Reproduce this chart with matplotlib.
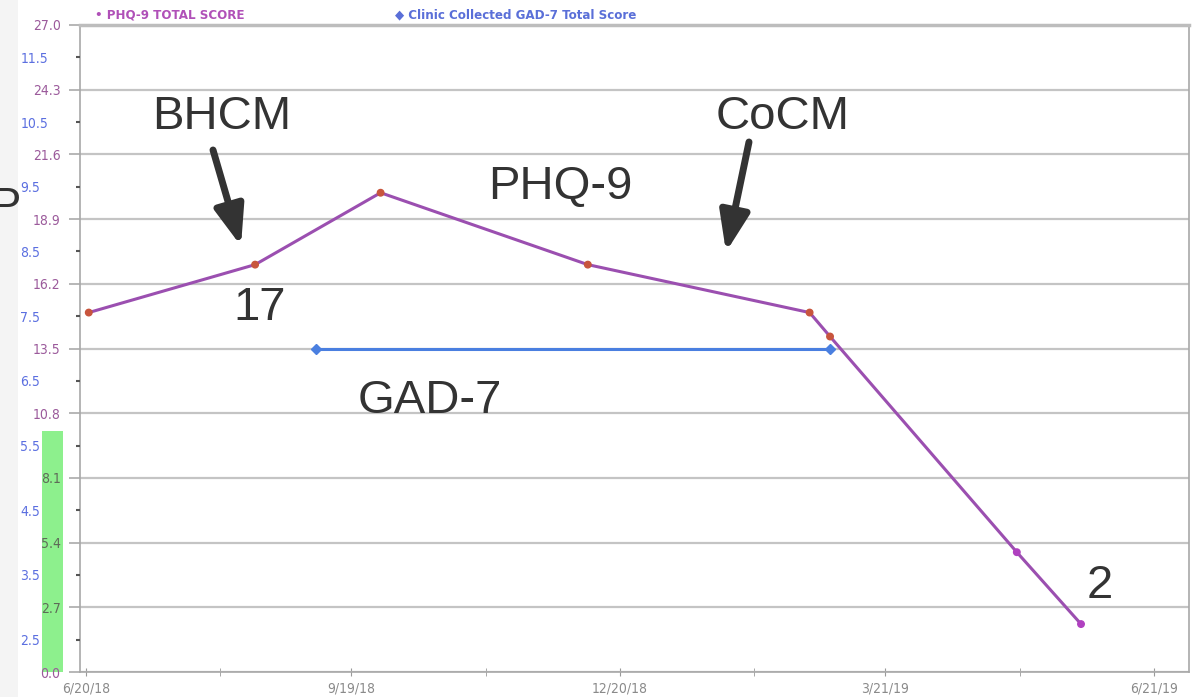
import matplotlib
matplotlib.use("Agg")
import matplotlib.pyplot as plt
import matplotlib.dates as mdates
from matplotlib.patches import Rectangle, FancyArrowPatch
from datetime import datetime

# ---- data ----
phq_dates = ["2018-06-21", "2018-08-17", "2018-09-29", "2018-12-09",
             "2019-02-23", "2019-03-02", "2019-05-05", "2019-05-27"]
phq_scores = [15, 17, 20, 17, 15, 14, 5, 2]
phq_marker_colors = ["#c8553d"] * 6 + ["#b040c0"] * 2

gad_dates = ["2018-09-07", "2019-03-02"]
gad_scores = [7, 7]

phq_ticks = [0.0, 2.7, 5.4, 8.1, 10.8, 13.5, 16.2, 18.9, 21.6, 24.3, 27.0]
gad_ticks = [2.5, 3.5, 4.5, 5.5, 6.5, 7.5, 8.5, 9.5, 10.5, 11.5]
x_tick_dates = ["2018-06-20", "2018-09-19", "2018-12-20", "2019-03-21", "2019-06-21"]
x_tick_labels = ["6/20/18", "9/19/18", "12/20/18", "3/21/19", "6/21/19"]
x_minor_dates = ["2018-08-05", "2018-11-04", "2019-02-04", "2019-05-06"]

def d(s):
    return mdates.date2num(datetime.strptime(s, "%Y-%m-%d"))

W, H = 1203, 697
fig = plt.figure(figsize=(W / 100, H / 100), dpi=100, facecolor="white")
small = dict(family=["DejaVu Sans"], fontstretch="condensed")

# faint grey strip at far left (screenshot background)
fig.patches.append(Rectangle((0, 0), 18 / W, 1, transform=fig.transFigure,
                             facecolor="#f4f4f4", edgecolor="none", zorder=-2))

# green bar behind left labels
fig.patches.append(Rectangle((42 / W, (H - 672) / H), 21 / W, (672 - 431) / H,
                             transform=fig.transFigure, facecolor="#8df08d",
                             edgecolor="none", zorder=-1))

ax = fig.add_axes([80 / W, (H - 672) / H, (1189 - 80) / W, (672 - 25) / H])
ax.set_facecolor("none")
ax.set_ylim(0, 27)
ax.set_xlim(d("2018-06-18"), d("2019-07-03"))

# grid
ax.set_yticks(phq_ticks)
labels = ax.set_yticklabels([f"{t:.1f}" for t in phq_ticks], color="#9b5a9b",
                            fontsize=10, **small)
for lab, t in zip(labels, phq_ticks):
    if 0 < t < 10:
        lab.set_color("#5e6a58")
ax.yaxis.grid(True, color="#c4c4c4", linewidth=1.6)
ax.tick_params(axis="y", length=8, width=1.2, color="#aaaaaa", pad=6)
ax.set_axisbelow(True)

ax.set_xticks([d(s) for s in x_tick_dates])
ax.set_xticklabels(x_tick_labels, color="#8a8a8a", fontsize=10, **small)
ax.set_xticks([d(s) for s in x_minor_dates], minor=True)
ax.tick_params(axis="x", which="both", direction="inout", length=6,
               color="#999999", pad=4)

for side in ["left", "bottom", "right"]:
    ax.spines[side].set_color("#a8a8a8")
    ax.spines[side].set_linewidth(1.2)
ax.spines["top"].set_color("#bdbdbd")
ax.spines["top"].set_linewidth(2.5)

# second (GAD-7) scale, labels also on left
ax2 = ax.twinx()
ax2.set_ylim(2, 12)
ax2.yaxis.tick_left()
ax2.set_yticks(gad_ticks)
ax2.set_yticklabels([f"{t:.1f}" for t in gad_ticks], color="#5b6fe0",
                    fontsize=10, ha="left", **small)
ax2.tick_params(axis="y", length=3, width=1.5, color="#555555", pad=40)
for s in ax2.spines.values():
    s.set_visible(False)

# series
xp = [d(s) for s in phq_dates]
ax.plot(xp, phq_scores, color="#9b4fb0", linewidth=2.2, zorder=3)
ax.scatter(xp, phq_scores, s=22, c=phq_marker_colors, zorder=4)

xg = [d(s) for s in gad_dates]
ax2.plot(xg, gad_scores, color="#4a7fe0", linewidth=2.2, marker="D",
         markersize=5, zorder=3)

# legend text at top
fig.text(95 / W, 1 - 15 / H, "\u2022 PHQ-9 TOTAL SCORE", color="#b050b8",
         fontsize=9.5, fontweight="semibold", va="center", **small)
fig.text(395 / W, 1 - 15 / H, "\u25c6 Clinic Collected GAD-7 Total Score",
         color="#5a6fd8", fontsize=9.5, fontweight="semibold", va="center",
         **small)

# annotations
tcol = "#333333"
big = dict(fontsize=34, color=tcol, family=["Liberation Sans", "DejaVu Sans"],
           ha="center", va="center")

def fp(x, y):
    return (x / W, 1 - y / H)

fig.text(*fp(222, 117), "BHCM", **big)
fig.text(*fp(783, 117), "CoCM", **big)
fig.text(*fp(560, 187), "PHQ-9", **big)
fig.text(*fp(260, 308), "17", **big)
fig.text(*fp(430, 401), "GAD-7", **big)
fig.text(*fp(1100, 586), "2", **big)
fig.text(-11 / W, 1 - 208 / H, "P", fontsize=34, color=tcol,
         family=["Liberation Sans", "DejaVu Sans"], ha="left", va="center")

arrowprops = dict(arrowstyle="-|>,head_length=1.2,head_width=0.45",
                  color="#333333", linewidth=5, shrinkA=0, shrinkB=0)
fig.add_artist(FancyArrowPatch(fp(213, 150), fp(241, 246),
                               transform=fig.transFigure,
                               mutation_scale=20, **arrowprops))
fig.add_artist(FancyArrowPatch(fp(749, 142), fp(726, 252),
                               transform=fig.transFigure,
                               mutation_scale=20, **arrowprops))

fig.savefig("out.png", dpi=100, facecolor="white")
